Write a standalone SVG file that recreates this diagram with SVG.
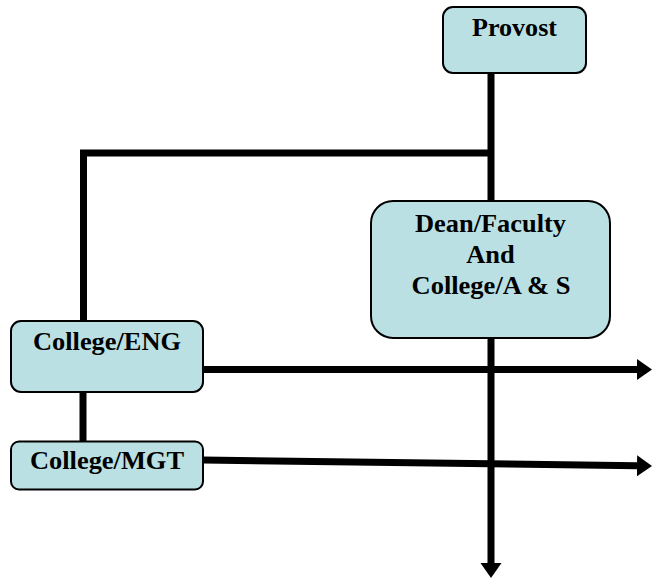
<svg xmlns="http://www.w3.org/2000/svg" width="652" height="580" viewBox="0 0 652 580">
  <style>
    .box { fill: #BBE0E3; stroke: #000; stroke-width: 2; }
    .lbl { font-family: "Liberation Serif", "Times New Roman", serif; font-weight: bold; font-size: 25px; fill: #000; text-anchor: middle; }
    .ln { stroke: #000; stroke-width: 7; fill: none; }
  </style>
  <defs>
    <marker id="ah" markerUnits="userSpaceOnUse" markerWidth="16" markerHeight="22" refX="0" refY="10.5" orient="auto">
      <path d="M0,0 L15,10.5 L0,21 Z" fill="#000"/>
    </marker>
  </defs>
  <g id="connectors">
    <line class="ln" x1="491" y1="73" x2="491" y2="201"/>
    <polyline class="ln" points="491,153 83.5,153 83.5,321"/>
    <line class="ln" x1="83" y1="392" x2="83" y2="442"/>
    <line class="ln" x1="491" y1="338" x2="491" y2="563" marker-end="url(#ah)"/>
    <line class="ln" x1="203" y1="369.5" x2="637" y2="369.5" marker-end="url(#ah)"/>
    <line class="ln" x1="203" y1="460" x2="637" y2="465.8" marker-end="url(#ah)"/>
  </g>
  <g id="provost">
    <rect class="box" x="443" y="7" width="143" height="66" rx="10"/>
    <text class="lbl" x="514.5" y="36" textLength="85" lengthAdjust="spacingAndGlyphs">Provost</text>
  </g>
  <g id="dean">
    <rect class="box" x="371" y="201" width="239" height="137" rx="22"/>
    <text class="lbl" x="490.5" y="232" textLength="151" lengthAdjust="spacingAndGlyphs">Dean/Faculty</text>
    <text class="lbl" x="490.5" y="263" textLength="48.5" lengthAdjust="spacingAndGlyphs">And</text>
    <text class="lbl" x="491" y="294" textLength="159" lengthAdjust="spacingAndGlyphs">College/A &amp; S</text>
  </g>
  <g id="college-eng">
    <rect class="box" x="11" y="321" width="192" height="71" rx="10"/>
    <text class="lbl" x="107" y="350" textLength="148" lengthAdjust="spacingAndGlyphs">College/ENG</text>
  </g>
  <g id="college-mgt">
    <rect class="box" x="11" y="441.5" width="192" height="48" rx="8"/>
    <text class="lbl" x="107" y="469" textLength="154" lengthAdjust="spacingAndGlyphs">College/MGT</text>
  </g>
</svg>
